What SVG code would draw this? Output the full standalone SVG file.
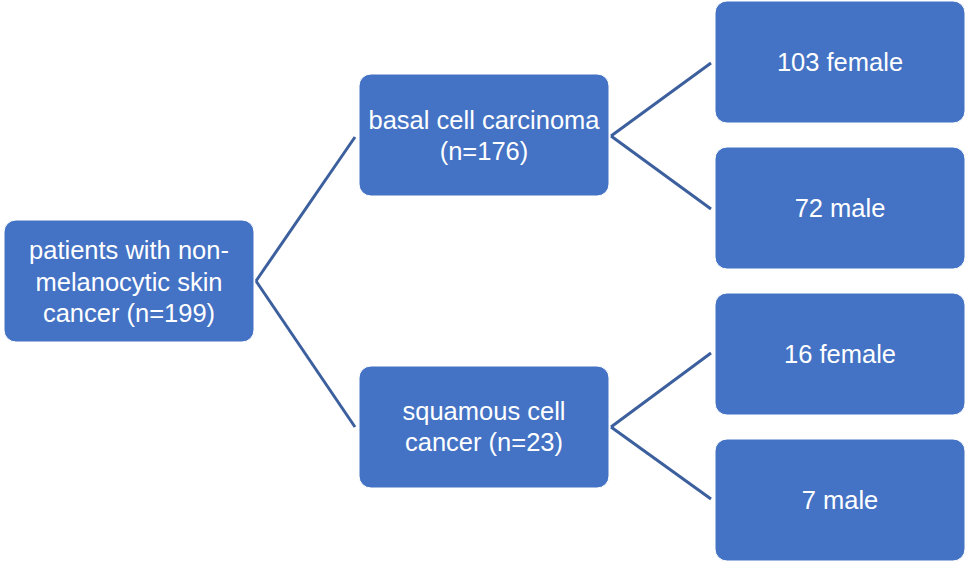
<svg xmlns="http://www.w3.org/2000/svg" width="976" height="565" viewBox="0 0 976 565">
<style>
.node rect{fill:#4472C4;stroke:#FFFFFF;stroke-width:1}
.node text{fill:#FFFFFF;font-family:"Liberation Sans",Arial,sans-serif;font-size:25.5px;text-anchor:middle}
.conn line{stroke:#3C5F9E;stroke-width:3;stroke-linecap:butt}
</style>
<rect width="976" height="565" fill="#FFFFFF"/>
<g id="connectors" class="conn">
<line x1="256" y1="281" x2="355" y2="137"/>
<line x1="256" y1="281" x2="355" y2="427"/>
<line x1="611" y1="136" x2="711" y2="63"/>
<line x1="611" y1="136" x2="711" y2="209"/>
<line x1="611" y1="427" x2="711" y2="353"/>
<line x1="611" y1="427" x2="711" y2="499"/>
</g>
<g id="root" class="node">
<rect x="4" y="220" width="250" height="122" rx="12"/>
<text x="129" y="259">patients with non-</text>
<text x="129" y="291">melanocytic skin</text>
<text x="129" y="322">cancer (n=199)</text>
</g>
<g id="bcc" class="node">
<rect x="359" y="74" width="250" height="122" rx="12"/>
<text x="484" y="129">basal cell carcinoma</text>
<text x="484" y="160">(n=176)</text>
</g>
<g id="scc" class="node">
<rect x="359" y="366" width="250" height="122" rx="12"/>
<text x="484" y="420">squamous cell</text>
<text x="484" y="451">cancer (n=23)</text>
</g>
<g id="bcc_female" class="node">
<rect x="715" y="1" width="250" height="122" rx="12"/>
<text x="840" y="71">103 female</text>
</g>
<g id="bcc_male" class="node">
<rect x="715" y="147" width="250" height="122" rx="12"/>
<text x="840" y="217">72 male</text>
</g>
<g id="scc_female" class="node">
<rect x="715" y="293" width="250" height="122" rx="12"/>
<text x="840" y="363">16 female</text>
</g>
<g id="scc_male" class="node">
<rect x="715" y="439" width="250" height="122" rx="12"/>
<text x="840" y="509">7 male</text>
</g>
</svg>
